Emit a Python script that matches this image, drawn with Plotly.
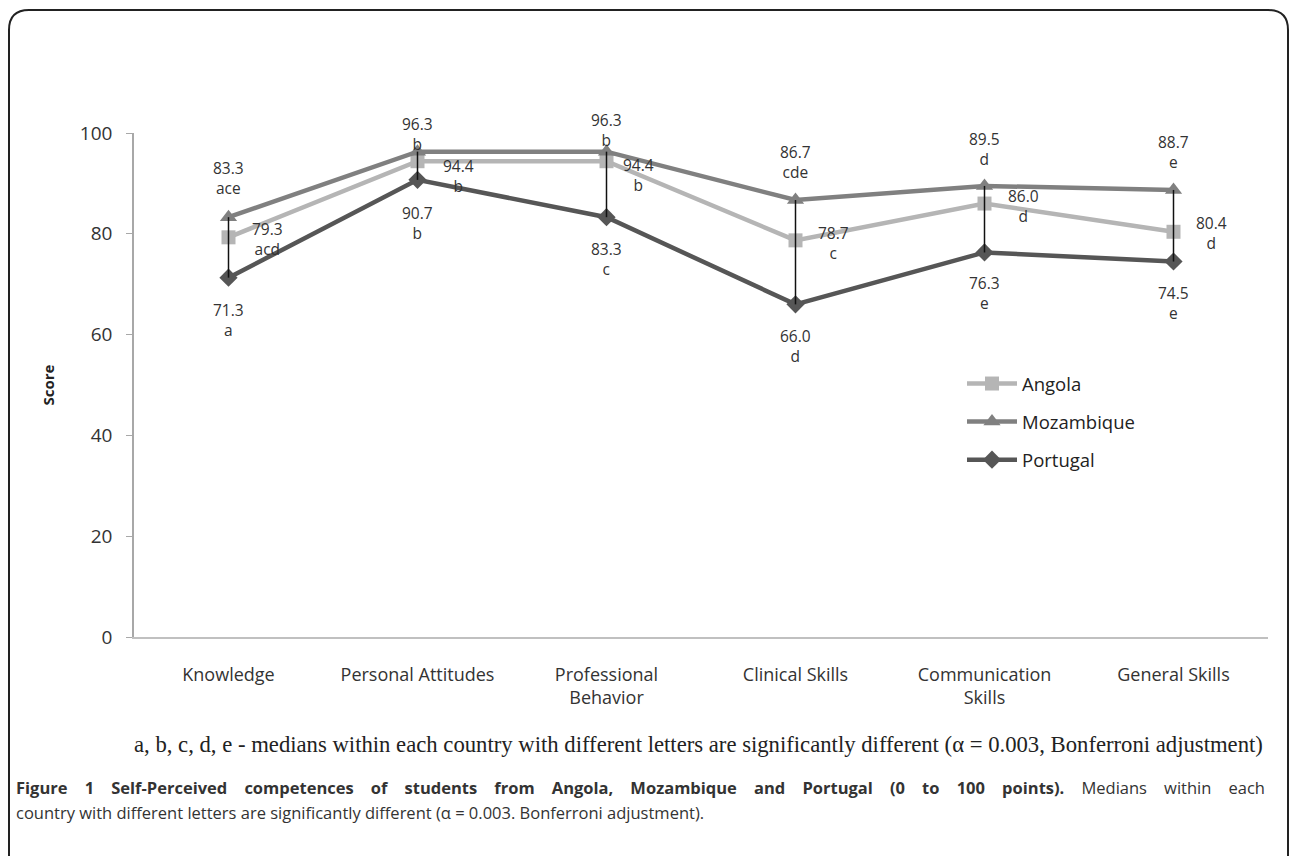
import plotly.graph_objects as go

# ---- data -------------------------------------------------------------
categories = ["Knowledge", "Personal Attitudes", "Professional Behavior",
              "Clinical Skills", "Communication Skills", "General Skills"]
tick_text = ["Knowledge", "Personal Attitudes", "Professional<br>Behavior",
             "Clinical Skills", "Communication<br>Skills", "General Skills"]

angola = [79.3, 94.4, 94.4, 78.7, 86.0, 80.4]
mozambique = [83.3, 96.3, 96.3, 86.7, 89.5, 88.7]
portugal = [71.3, 90.7, 83.3, 66.0, 76.3, 74.5]

angola_letters = ["acd", "b", "b", "c", "d", "d"]
mozambique_letters = ["ace", "b", "b", "cde", "d", "e"]
portugal_letters = ["a", "b", "c", "d", "e", "e"]

y_ticks = [0, 20, 40, 60, 80, 100]

# ---- page geometry (pixels) -------------------------------------------
W, H = 1292, 856
L, R, T, B = 134, 24, 133, 219
PW, PH = W - L - R, H - T - B


def px(x):
    return (x - L) / PW


def py(y):
    return (H - B - y) / PH


SANS = "Open Sans, Lato, sans-serif"
LABEL_FONT = dict(family=SANS, size=15.5, color="#333333")

series = [
    dict(name="Angola", values=angola, letters=angola_letters, color="#b5b5b5",
         symbol="square", size=14,
         offsets=[(39, -2), (41, -15), (32, -14), (38, -3), (39, -2), (38, -1)]),
    dict(name="Mozambique", values=mozambique, letters=mozambique_letters,
         color="#808080", symbol="triangle-up", size=15,
         offsets=[(0, 39), (0, 18), (0, 22), (0, 38), (0, 37), (0, 38)]),
    dict(name="Portugal", values=portugal, letters=portugal_letters,
         color="#565656", symbol="diamond", size=14,
         offsets=[(0, -42), (0, -43), (0, -42), (0, -42), (0, -41), (0, -41)]),
]

fig = go.Figure()

for s in series:
    fig.add_trace(go.Scatter(
        x=categories, y=s["values"], name=s["name"], mode="lines+markers",
        line=dict(color=s["color"], width=4.5),
        marker=dict(symbol=s["symbol"], size=s["size"], color=s["color"]),
        legendgroup=s["name"], cliponaxis=False,
    ))

# high-low lines joining the lowest and highest median of each competence
hl_x, hl_y = [], []
for j, c in enumerate(categories):
    vals = [angola[j], mozambique[j], portugal[j]]
    hl_x += [c, c, None]
    hl_y += [min(vals), max(vals), None]
fig.add_trace(go.Scatter(x=hl_x, y=hl_y, mode="lines", showlegend=False,
                         line=dict(color="#111111", width=1.5),
                         hoverinfo="skip", cliponaxis=False))

# value + significance letter labels
annotations = []
for s in series:
    for j, c in enumerate(categories):
        dx, dy = s["offsets"][j]
        annotations.append(dict(
            x=c, y=s["values"][j], xref="x", yref="y",
            text=f"{s['values'][j]:.1f}<br>{s['letters'][j]}",
            showarrow=False, xanchor="center", yanchor="middle",
            xshift=dx, yshift=dy, font=LABEL_FONT,
        ))

# footnote and figure caption
annotations.append(dict(
    x=px(698), y=py(744), xref="paper", yref="paper", showarrow=False,
    xanchor="center", yanchor="middle",
    text="a, b, c, d, e - medians within each country with different letters are "
         "significantly different (\u03b1 = 0.003, Bonferroni adjustment)",
    font=dict(family="Liberation Serif, serif", size=22.7, color="#222222"),
))

CAP_FONT = dict(family=SANS, size=16.5, color="#333333")
gap = " " + "&nbsp;" * 3  # widened word spacing of the justified first line
cap_bold = ("Figure 1 Self-Perceived competences of students from Angola, "
            "Mozambique and Portugal (0 to 100 points).")
cap_tail = "Medians within each"
annotations.append(dict(
    x=px(14), y=py(787), xref="paper", yref="paper", showarrow=False,
    xanchor="left", yanchor="middle",
    text="<b>" + gap.join(cap_bold.split(" ")) + "</b>" + gap
         + gap.join(cap_tail.split(" ")),
    font=CAP_FONT,
))
annotations.append(dict(
    x=px(14), y=py(812), xref="paper", yref="paper", showarrow=False,
    xanchor="left", yanchor="middle",
    text="country with different letters are significantly different "
         "(\u03b1 = 0.003. Bonferroni adjustment).",
    font=CAP_FONT,
))

# rounded panel frame around the figure
r = 20
x0, x1, y0, y1 = 9, 1288, 10, 860
frame = (f"M {px(x0)},{py(y1)} L {px(x0)},{py(y0 + r)} "
         f"Q {px(x0)},{py(y0)} {px(x0 + r)},{py(y0)} "
         f"L {px(x1 - r)},{py(y0)} Q {px(x1)},{py(y0)} {px(x1)},{py(y0 + r)} "
         f"L {px(x1)},{py(y1)}")

fig.update_layout(
    width=W, height=H,
    margin=dict(l=L, r=R, t=T, b=B),
    paper_bgcolor="white", plot_bgcolor="white",
    font=dict(family=SANS, color="#333333"),
    showlegend=True,
    legend=dict(x=px(962), y=py(365), xanchor="left", yanchor="top",
                font=dict(family=SANS, size=18.5, color="#222222"),
                itemwidth=50, tracegroupgap=11, bgcolor="rgba(0,0,0,0)"),
    xaxis=dict(
        type="category", categoryorder="array", categoryarray=categories,
        tickvals=categories, ticktext=tick_text, range=[-0.5, 5.5],
        showline=True, linecolor="#c0c0c0", linewidth=2,
        ticks="", showgrid=False, zeroline=False,
        tickfont=dict(family=SANS, size=18, color="#333333"),
        ticklabelstandoff=20,
    ),
    yaxis=dict(
        range=[0, 100], tickvals=y_ticks, showline=True, linecolor="#a8a8a8",
        linewidth=1.5, ticks="outside", ticklen=6, tickcolor="#a8a8a8",
        showgrid=False, zeroline=False,
        tickfont=dict(family=SANS, size=19, color="#333333"),
        ticklabelstandoff=10,
        title=dict(text="<b>Score</b>", standoff=22,
                   font=dict(family=SANS, size=15, color="#222222")),
    ),
    shapes=[dict(type="path", path=frame, xref="paper", yref="paper",
                 line=dict(color="#222222", width=2))],
    annotations=annotations,
)

fig.write_html("out.html")
